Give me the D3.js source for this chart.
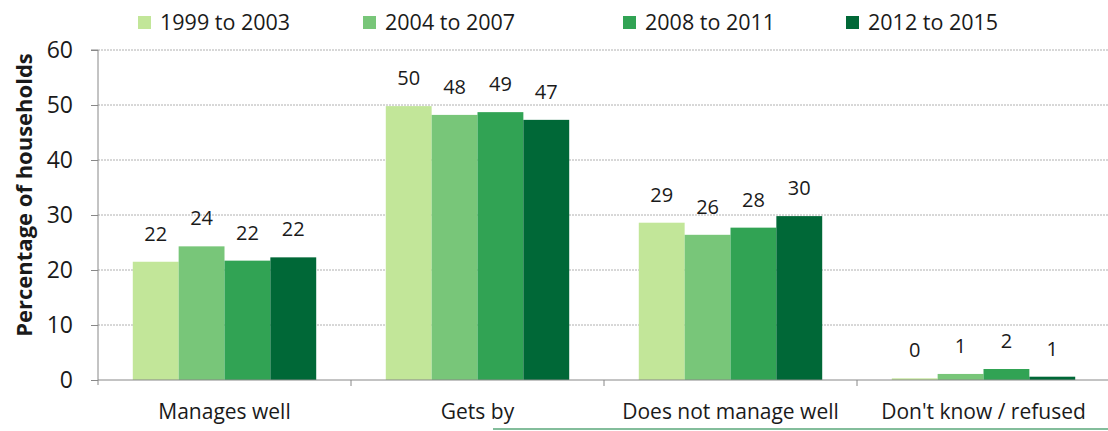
<!DOCTYPE html>
<html>
<head>
<meta charset="utf-8">
<script src="https://cdn.jsdelivr.net/npm/d3@7"></script>
<style>
  body { margin: 0; background: #fff; }
  svg text { font-family: "Open Sans", sans-serif; fill: #1a1a1a; }
</style>
</head>
<body>
<svg id="chart"></svg>
<script>
// data
const categories = ["Manages well", "Gets by", "Does not manage well", "Don't know / refused"];
const periods = ["1999 to 2003", "2004 to 2007", "2008 to 2011", "2012 to 2015"];
const colors = ["#c2e699", "#78c679", "#31a354", "#006837"];
const values = [
  [21.5, 49.8, 28.6, 0.3],  // 1999 to 2003
  [24.3, 48.2, 26.4, 1.1],  // 2004 to 2007
  [21.7, 48.7, 27.7, 2.0],  // 2008 to 2011
  [22.3, 47.3, 29.8, 0.6]   // 2012 to 2015
];
const labels = [
  [22, 50, 29, 0],
  [24, 48, 26, 1],
  [22, 49, 28, 2],
  [22, 47, 30, 1]
];
const yTicks = [0, 10, 20, 30, 40, 50, 60];

const W = 1108, H = 431;
const margin = {top: 50, right: 0, bottom: 51, left: 98};

const svg = d3.select("#chart").attr("width", W).attr("height", H);

const x0 = d3.scaleBand().domain(categories).range([margin.left, 1110]).paddingInner(0.275).paddingOuter(0.1375);
const x1 = d3.scaleBand().domain(periods).range([0, x0.bandwidth()]);
const y = d3.scaleLinear().domain([0, 60]).range([H - margin.bottom, margin.top]);

// gridlines
svg.append("g")
  .selectAll("line")
  .data(yTicks.filter(d => d > 0))
  .enter().append("line")
  .attr("x1", margin.left).attr("x2", W)
  .attr("y1", d => y(d)).attr("y2", d => y(d))
  .attr("stroke", "#b0b0b0")
  .attr("stroke-dasharray", "2,1")
  .attr("stroke-width", 1);

// y axis
const yAxis = svg.append("g")
  .attr("transform", `translate(${margin.left},0)`)
  .call(d3.axisLeft(y).tickValues(yTicks).tickSize(7).tickPadding(18));
yAxis.select(".domain").attr("stroke", "#888").attr("d", `M-7,${y(60)}H0V${y(0) + 5}`);
yAxis.selectAll(".tick line").attr("stroke", "#888");
yAxis.selectAll(".tick text").style("font-size", "23px").attr("fill", "#1a1a1a")
  .style("font-family", "'Open Sans', sans-serif");

// bars
periods.forEach((p, i) => {
  svg.append("g")
    .selectAll("rect")
    .data(categories)
    .enter().append("rect")
    .attr("x", c => x0(c) + x1(p))
    .attr("width", x1.bandwidth())
    .attr("y", (c, j) => y(values[i][j]))
    .attr("height", (c, j) => y(0) - y(values[i][j]))
    .attr("fill", colors[i]);

  svg.append("g")
    .selectAll("text")
    .data(categories)
    .enter().append("text")
    .attr("x", c => x0(c) + x1(p) + x1.bandwidth() / 2)
    .attr("y", (c, j) => y(values[i][j]) - 21)
    .attr("text-anchor", "middle")
    .style("font-size", "20px")
    .text((c, j) => labels[i][j]);
});

// x axis
const xEdges = [margin.left, ...categories.slice(1).map(c => x0(c) - x0.step() * x0.paddingInner() / 2)];
svg.append("line")
  .attr("x1", margin.left).attr("x2", W)
  .attr("y1", y(0)).attr("y2", y(0))
  .attr("stroke", "#888");
svg.append("g")
  .selectAll("line")
  .data(xEdges.slice(1))
  .enter().append("line")
  .attr("x1", d => d).attr("x2", d => d)
  .attr("y1", y(0)).attr("y2", y(0) + 6)
  .attr("stroke", "#888");
svg.append("g")
  .selectAll("text")
  .data(categories)
  .enter().append("text")
  .attr("x", c => x0(c) + x0.bandwidth() / 2)
  .attr("y", y(0) + 39)
  .attr("text-anchor", "middle")
  .style("font-size", "21px")
  .text(c => c);

// y title
svg.append("text")
  .attr("transform", `translate(32,${(y(0) + y(60)) / 2 - 20}) rotate(-90)`)
  .attr("text-anchor", "middle")
  .style("font-size", "22px")
  .style("font-weight", "bold")
  .text("Percentage of households");

// legend
const legendX = [138, 363, 623, 846];
const legend = svg.append("g")
  .selectAll("g")
  .data(periods)
  .enter().append("g")
  .attr("transform", (d, i) => `translate(${legendX[i]},16)`);
legend.append("rect")
  .attr("width", 13).attr("height", 13)
  .attr("fill", (d, i) => colors[i]);
legend.append("text")
  .attr("x", 22).attr("y", 14)
  .style("font-size", "21.5px")
  .text(d => d);

// stray green rule at the bottom edge
svg.append("line")
  .attr("x1", 493).attr("x2", W)
  .attr("y1", 429).attr("y2", 429)
  .attr("stroke", "#5aa77a")
  .attr("stroke-width", 1.5);
</script>
</body>
</html>
